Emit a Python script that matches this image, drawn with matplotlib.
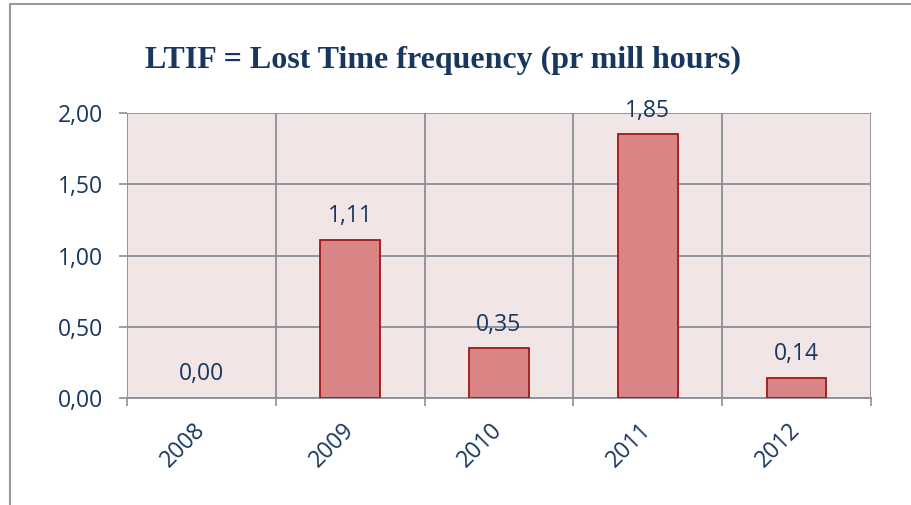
import matplotlib
matplotlib.use("Agg")
import matplotlib.pyplot as plt
from matplotlib.patches import Rectangle
from matplotlib.ticker import MultipleLocator, FixedLocator, FuncFormatter

years = ["2008", "2009", "2010", "2011", "2012"]
ltif = [0.00, 1.11, 0.35, 1.85, 0.14]
title = "LTIF = Lost Time frequency (pr mill hours)"

navy = "#17375E"
grid_c = "#8C8F99"
bg = "#F2E5E5"
bar_c = "#D98585"
edge_c = "#A01818"
fs = 16.5
fam = "Open Sans"

fig = plt.figure(figsize=(9.12, 5.05), dpi=100)
fig.patches.append(Rectangle((10/912, -0.1), 2, 1 - 4/505 + 0.1, transform=fig.transFigure,
                             fill=False, edgecolor="#9A9A9A", linewidth=1.5))

ax = fig.add_axes([127/912, 1 - 398/505, (871 - 127)/912, (398 - 113)/505])
ax.set_facecolor(bg)
x = list(range(len(years)))
edges = [edge_c if v > 0 else "none" for v in ltif]
ax.bar(x, ltif, width=0.4, color=bar_c, edgecolor=edges, linewidth=1.3, zorder=3)
ax.set_xlim(-0.5, len(years) - 0.5)
ax.set_ylim(0, 2.0)
ax.yaxis.set_major_locator(MultipleLocator(0.5))
ax.yaxis.set_major_formatter(FuncFormatter(lambda v, p: f"{v:.2f}".replace(".", ",")))
ax.xaxis.set_major_locator(FixedLocator([i - 0.5 for i in range(len(years) + 1)]))
ax.xaxis.set_minor_locator(FixedLocator(x))
ax.set_xticklabels([])
ax.set_xticklabels(years, minor=True, rotation=45, ha="right", va="center",
                   rotation_mode="anchor", fontsize=fs, color=navy, fontfamily=fam)
ax.tick_params(axis="x", which="minor", length=0, pad=21)
ax.tick_params(axis="x", which="major", length=6, color=grid_c, width=1.2)
ax.tick_params(axis="y", length=6, color=grid_c, width=1.2, labelsize=fs,
               labelcolor=navy, pad=11)
for lab in ax.get_yticklabels():
    lab.set_fontfamily(fam)
ax.grid(True, which="major", color=grid_c, linewidth=1.3, zorder=0)
for s in ["left", "right", "top"]:
    ax.spines[s].set_visible(False)
ax.spines["bottom"].set_color(grid_c)
ax.spines["bottom"].set_linewidth(1.3)
ax.set_axisbelow(True)

for xi, v in zip(x, ltif):
    ax.annotate(f"{v:.2f}".replace(".", ","), (xi, v), xytext=(0, 17),
                textcoords="offset points", ha="center", va="center",
                fontsize=fs, color=navy, fontfamily=fam, zorder=4)

fig.text(443/912, 1 - 60/505, title, ha="center", va="center", fontsize=23,
         fontweight="bold", color=navy, fontfamily="Liberation Serif")

fig.savefig("out.png", dpi=100)
